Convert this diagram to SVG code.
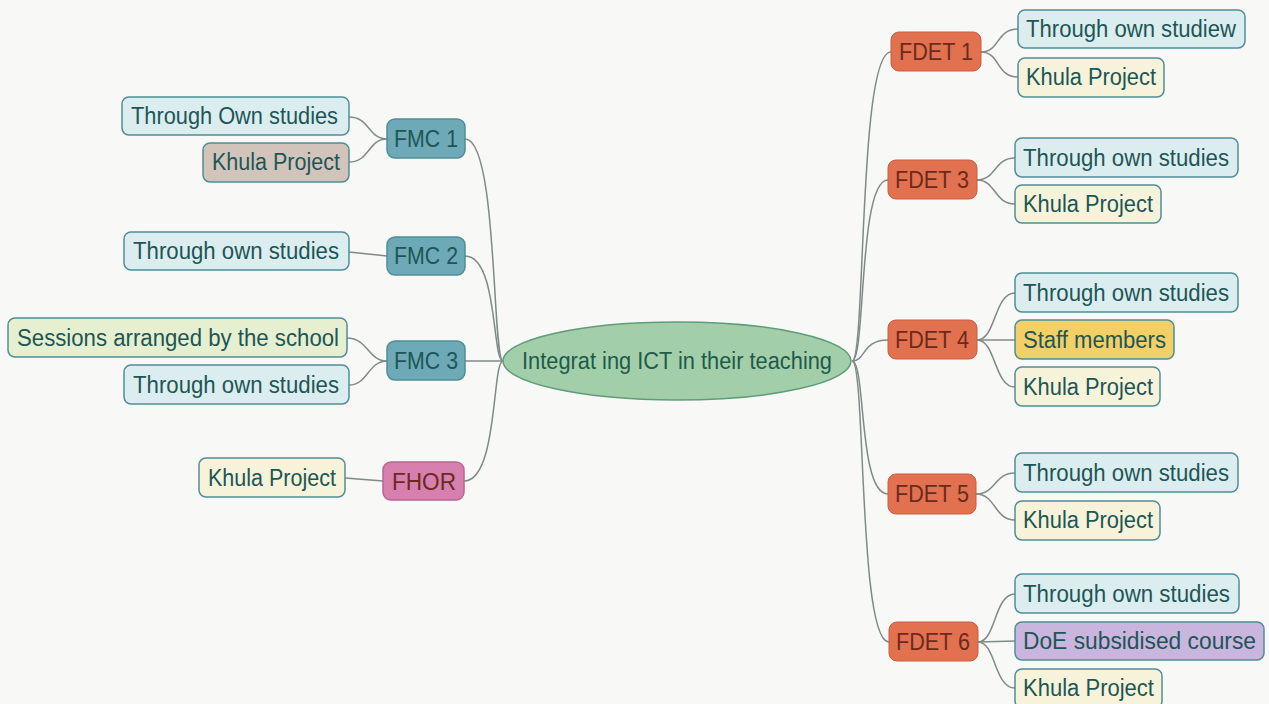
<svg xmlns="http://www.w3.org/2000/svg" width="1269" height="704" viewBox="0 0 1269 704">
<style>
.t{font-family:"Liberation Sans",Arial,sans-serif;font-size:23px;fill:#1d5656;dominant-baseline:central}
.tm{text-anchor:middle}
.b{stroke:#4f8e96;stroke-width:1.5}
.leaf{fill:#dcedf0}
.kh{fill:#f6f3da}
.br{fill:#d3c4bb}
.se{fill:#e6efcf}
.st{fill:#f3cf67}
.doe{fill:#c9b5de}
.fmc{fill:#6ea9b7}
.fhor{fill:#d77fae;stroke:#b86690}
.fdet{fill:#e2714f;stroke:#c85c40}
.tf{fill:#6b2a20}
.c{fill:none;stroke:#7f8b88;stroke-width:1.5}
</style>
<rect width="1269" height="704" fill="#f8f8f7"/>
<g id="connectors">
<path class="c" d="M503,361 C492,361 498,139 465,139"/>
<path class="c" d="M503,361 C492,361 498,256 465,256"/>
<path class="c" d="M503,361 L465,361"/>
<path class="c" d="M503,361 C492,361 498,481 464,481"/>
<path class="c" d="M387,139 C368,139 370,117 349,117"/>
<path class="c" d="M387,139 C368,139 370,162 349,162"/>
<path class="c" d="M387,256 L349,252"/>
<path class="c" d="M387,361 C368,361 368,338 347,338"/>
<path class="c" d="M387,361 C368,361 368,385 349,385"/>
<path class="c" d="M383,481 L345,478"/>
<path class="c" d="M852,361 C866,361 858,52 891,52"/>
<path class="c" d="M852,361 C866,361 858,180 888,180"/>
<path class="c" d="M852,361 C866,361 862,340 888,340"/>
<path class="c" d="M852,361 C866,361 858,494 888,494"/>
<path class="c" d="M852,361 C866,361 858,642 889,642"/>
<path class="c" d="M981,52 C1000,52 996,29 1018,29"/>
<path class="c" d="M981,52 C1000,52 996,77 1018,77"/>
<path class="c" d="M977,180 C996,180 994,158 1015,158"/>
<path class="c" d="M977,180 C996,180 994,204 1015,204"/>
<path class="c" d="M977,340 C996,340 994,293 1015,293"/>
<path class="c" d="M977,340 L1015,340"/>
<path class="c" d="M977,340 C996,340 994,387 1015,387"/>
<path class="c" d="M976,494 C996,494 994,473 1015,473"/>
<path class="c" d="M976,494 C996,494 994,520 1015,520"/>
<path class="c" d="M978,642 C996,642 994,594 1015,594"/>
<path class="c" d="M978,642 L1015,641"/>
<path class="c" d="M978,642 C996,642 994,688 1015,688"/>
</g>
<g id="center">
<ellipse cx="677" cy="361" rx="174" ry="39" fill="#a2cfa9" stroke="#5f9c7a" stroke-width="1.5"/>
<text class="t tm" x="677" y="361" textLength="310" lengthAdjust="spacingAndGlyphs" style="fill:#1f5a4a">Integrat ing ICT in their teaching</text>
</g>
<g id="fmc1"><rect class="b fmc" x="387" y="119" width="78" height="39" rx="8"/><text class="t tm" x="426" y="139" textLength="64" lengthAdjust="spacingAndGlyphs">FMC 1</text></g>
<g id="fmc1-a"><rect class="b leaf" x="122" y="97" width="227" height="38" rx="7"/><text class="t" x="131" y="116" textLength="207" lengthAdjust="spacingAndGlyphs">Through Own studies</text></g>
<g id="fmc1-b"><rect class="b br" x="203" y="143" width="146" height="39" rx="7"/><text class="t" x="212" y="162" textLength="128" lengthAdjust="spacingAndGlyphs">Khula Project</text></g>
<g id="fmc2"><rect class="b fmc" x="387" y="237" width="78" height="38" rx="8"/><text class="t tm" x="426" y="256" textLength="64" lengthAdjust="spacingAndGlyphs">FMC 2</text></g>
<g id="fmc2-a"><rect class="b leaf" x="124" y="232" width="225" height="38" rx="7"/><text class="t" x="133" y="251" textLength="206" lengthAdjust="spacingAndGlyphs">Through own studies</text></g>
<g id="fmc3"><rect class="b fmc" x="387" y="341" width="78" height="39" rx="8"/><text class="t tm" x="426" y="361" textLength="64" lengthAdjust="spacingAndGlyphs">FMC 3</text></g>
<g id="fmc3-a"><rect class="b se" x="8" y="318" width="339" height="39" rx="7"/><text class="t" x="17" y="338" textLength="322" lengthAdjust="spacingAndGlyphs">Sessions arranged by the school</text></g>
<g id="fmc3-b"><rect class="b leaf" x="124" y="365" width="225" height="39" rx="7"/><text class="t" x="133" y="385" textLength="206" lengthAdjust="spacingAndGlyphs">Through own studies</text></g>
<g id="fhor"><rect class="b fhor" x="383" y="462" width="81" height="38" rx="8"/><text class="t tm tf" x="424" y="482" textLength="64" lengthAdjust="spacingAndGlyphs">FHOR</text></g>
<g id="fhor-a"><rect class="b kh" x="199" y="458" width="146" height="39" rx="7"/><text class="t" x="208" y="478" textLength="128" lengthAdjust="spacingAndGlyphs">Khula Project</text></g>
<g id="fdet1"><rect class="fdet" x="891" y="32" width="90" height="39" rx="8"/><text class="t tm tf" x="936" y="52" textLength="74" lengthAdjust="spacingAndGlyphs">FDET 1</text></g>
<g id="fdet1-a"><rect class="b leaf" x="1018" y="10" width="227" height="38" rx="7"/><text class="t" x="1026" y="29" textLength="210" lengthAdjust="spacingAndGlyphs">Through own studiew</text></g>
<g id="fdet1-b"><rect class="b kh" x="1018" y="58" width="146" height="39" rx="7"/><text class="t" x="1026" y="77" textLength="130" lengthAdjust="spacingAndGlyphs">Khula Project</text></g>
<g id="fdet3"><rect class="fdet" x="888" y="160" width="89" height="39" rx="8"/><text class="t tm tf" x="932" y="180" textLength="74" lengthAdjust="spacingAndGlyphs">FDET 3</text></g>
<g id="fdet3-a"><rect class="b leaf" x="1015" y="138" width="223" height="39" rx="7"/><text class="t" x="1023" y="158" textLength="206" lengthAdjust="spacingAndGlyphs">Through own studies</text></g>
<g id="fdet3-b"><rect class="b kh" x="1015" y="185" width="146" height="38" rx="7"/><text class="t" x="1023" y="204" textLength="130" lengthAdjust="spacingAndGlyphs">Khula Project</text></g>
<g id="fdet4"><rect class="fdet" x="888" y="320" width="89" height="39" rx="8"/><text class="t tm tf" x="932" y="340" textLength="74" lengthAdjust="spacingAndGlyphs">FDET 4</text></g>
<g id="fdet4-a"><rect class="b leaf" x="1015" y="273" width="223" height="39" rx="7"/><text class="t" x="1023" y="293" textLength="206" lengthAdjust="spacingAndGlyphs">Through own studies</text></g>
<g id="fdet4-b"><rect class="b st" x="1015" y="320" width="159" height="39" rx="7"/><text class="t" x="1023" y="340" textLength="143" lengthAdjust="spacingAndGlyphs">Staff members</text></g>
<g id="fdet4-c"><rect class="b kh" x="1015" y="367" width="145" height="39" rx="7"/><text class="t" x="1023" y="387" textLength="130" lengthAdjust="spacingAndGlyphs">Khula Project</text></g>
<g id="fdet5"><rect class="fdet" x="888" y="474" width="88" height="40" rx="8"/><text class="t tm tf" x="932" y="494" textLength="74" lengthAdjust="spacingAndGlyphs">FDET 5</text></g>
<g id="fdet5-a"><rect class="b leaf" x="1015" y="453" width="223" height="39" rx="7"/><text class="t" x="1023" y="473" textLength="206" lengthAdjust="spacingAndGlyphs">Through own studies</text></g>
<g id="fdet5-b"><rect class="b kh" x="1015" y="501" width="145" height="39" rx="7"/><text class="t" x="1023" y="520" textLength="130" lengthAdjust="spacingAndGlyphs">Khula Project</text></g>
<g id="fdet6"><rect class="fdet" x="889" y="622" width="89" height="39" rx="8"/><text class="t tm tf" x="933" y="642" textLength="74" lengthAdjust="spacingAndGlyphs">FDET 6</text></g>
<g id="fdet6-a"><rect class="b leaf" x="1015" y="574" width="224" height="39" rx="7"/><text class="t" x="1023" y="594" textLength="207" lengthAdjust="spacingAndGlyphs">Through own studies</text></g>
<g id="fdet6-b"><rect class="b doe" x="1015" y="622" width="249" height="38" rx="7"/><text class="t" x="1023" y="641" textLength="233" lengthAdjust="spacingAndGlyphs">DoE subsidised course</text></g>
<g id="fdet6-c"><rect class="b kh" x="1015" y="669" width="147" height="39" rx="7"/><text class="t" x="1023" y="688" textLength="131" lengthAdjust="spacingAndGlyphs">Khula Project</text></g>
</svg>
